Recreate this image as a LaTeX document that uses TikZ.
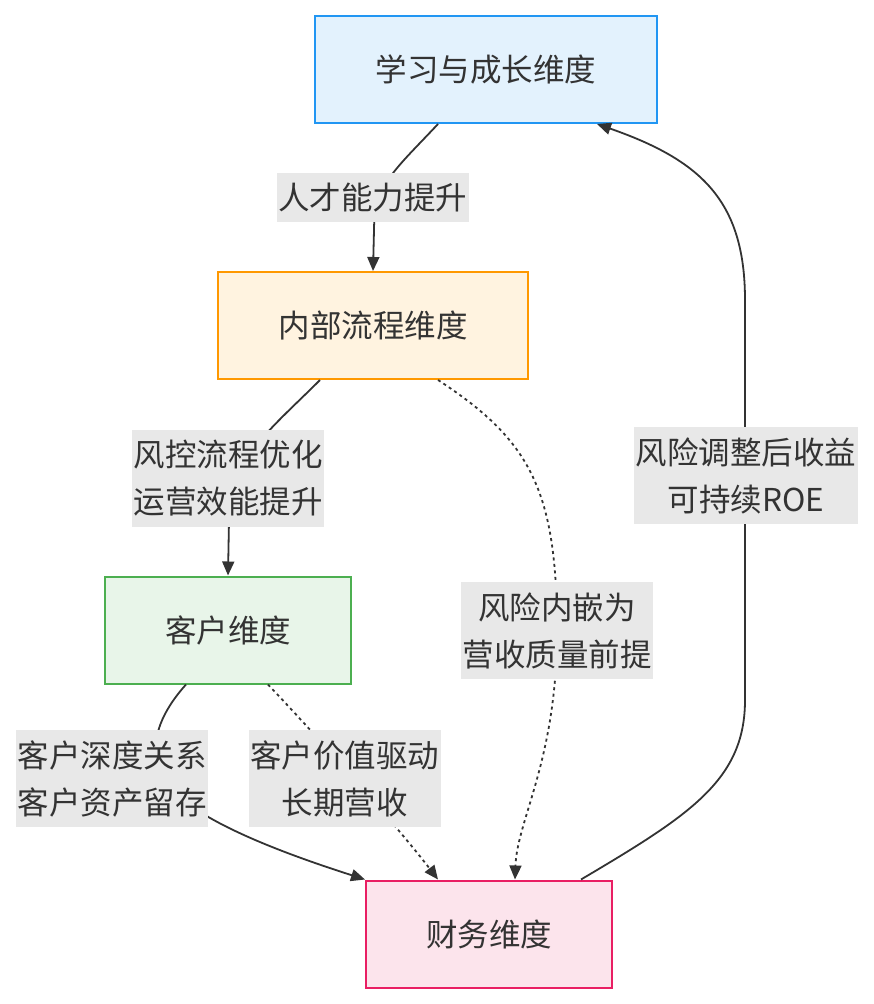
\documentclass[tikz,border=0pt]{standalone}
\usepackage{fontspec}
\setmainfont{Noto Sans CJK SC}
\usepackage{xcolor}
\usepackage{tikz}
\usetikzlibrary{calc,arrows.meta}

\definecolor{inkgray}{HTML}{333333}
\definecolor{lblgray}{HTML}{E8E8E8}
\definecolor{learnfill}{HTML}{E3F2FD}
\definecolor{learndraw}{HTML}{2196F3}
\definecolor{procfill}{HTML}{FFF3E0}
\definecolor{procdraw}{HTML}{FF9800}
\definecolor{custfill}{HTML}{E8F5E9}
\definecolor{custdraw}{HTML}{4CAF50}
\definecolor{finfill}{HTML}{FCE4EC}
\definecolor{findraw}{HTML}{E91E63}

\tikzset{
    dimbox/.style={draw, line width=2pt, minimum height=107pt, inner sep=0pt,
        text=inkgray, font=\fontsize{31.5}{40}\selectfont},
    lbl/.style={fill=lblgray, inner sep=0pt, align=center, text=inkgray,
        font=\fontsize{31.5}{47}\selectfont},
    link/.style={draw=inkgray, line width=1.8pt, -{Triangle[length=14pt,width=12pt]}},
    dotlink/.style={link, dash pattern=on 3pt off 3.5pt}
}

\begin{document}
\begin{tikzpicture}[x=1pt,y=-1pt]
        \useasboundingbox (0,0) rectangle (874,1004);

        \node[dimbox, fill=learnfill, draw=learndraw, minimum width=342pt] (learn) at (486,69.5) {学习与成长维度};
        \node[dimbox, fill=procfill, draw=procdraw, minimum width=310pt] (proc) at (373,325.5) {内部流程维度};
        \node[dimbox, fill=custfill, draw=custdraw, minimum width=246pt] (cust) at (228,630) {客户维度};
        \node[dimbox, fill=finfill, draw=findraw, minimum width=246pt] (fin) at (489,934) {财务维度};

        % edges
        \draw[link] ($(learn.south west)+(124,0)$) .. controls (395,170) and (374,185) .. (374,230) -- (proc.north);
        \draw[link] ($(proc.south west)+(103,0)$) .. controls (270,430) and (229,460) .. (229,520) -- (cust.north);
        \draw[dotlink] ($(proc.south west)+(221,0)$) .. controls (530,440) and (557,490) .. (557,631)
            .. controls (557,760) and (517,820) .. ($(fin.north west)+(150,0)$);
        \draw[link] ($(cust.south west)+(82,0)$) .. controls (145,730) and (140,780) .. (205,815)
            .. controls (250,842) and (320,865) .. (fin.north west);
        \draw[dotlink] ($(cust.south west)+(164,0)$) .. controls (330,750) and (400,830) .. ($(fin.north west)+(73,0)$);
        \draw[link] ($(fin.north west)+(216,0)$) .. controls (690,815) and (745,780) .. (745,700)
            -- (745,300) .. controls (745,200) and (700,160) .. ($(learn.south west)+(283,0)$);

        % edge labels
        \node[lbl, minimum width=192pt, minimum height=49pt] (l1) at (372.5,197.5) {人才能力提升};
        \node[lbl, minimum width=192pt, minimum height=97pt] (l2) at (228,478.5) {风控流程优化\\运营效能提升};
        \node[lbl, minimum width=192pt, minimum height=97pt] (l3) at (557,630.5) {风险内嵌为\\营收质量前提};
        \node[lbl, minimum width=192pt, minimum height=97pt] (l4) at (112,778.5) {客户深度关系\\客户资产留存};
        \node[lbl, minimum width=192pt, minimum height=97pt] (l5) at (344.5,778.5) {客户价值驱动\\长期营收};
        \node[lbl, minimum width=224pt, minimum height=97pt] (l6) at (746,475.5) {风险调整后收益\\可持续ROE};
    \end{tikzpicture}
\end{document}
